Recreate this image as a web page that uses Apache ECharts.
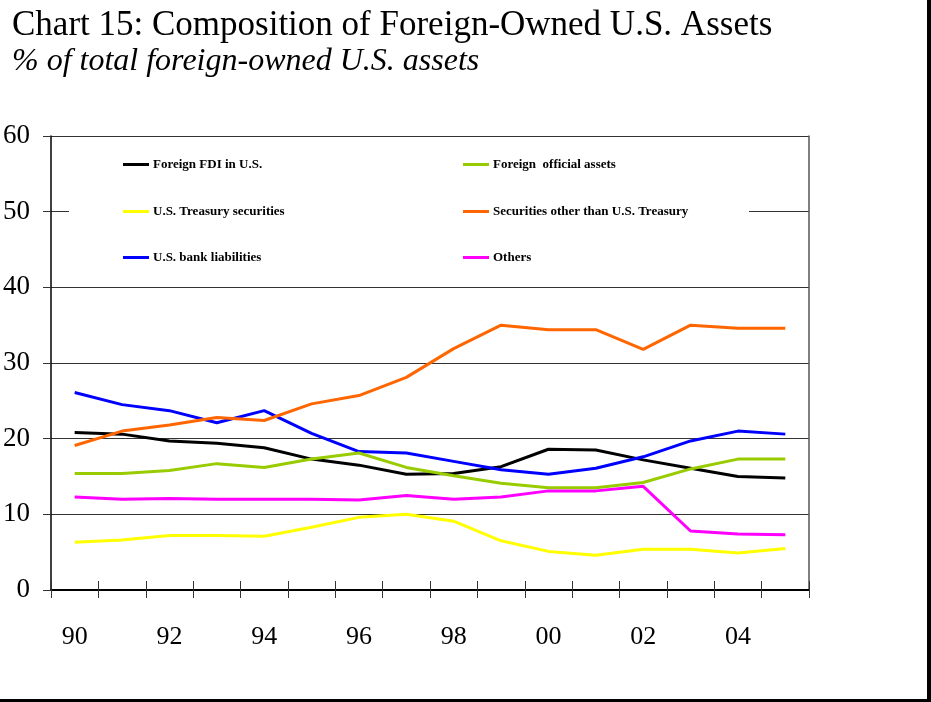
<!DOCTYPE html>
<html lang="en">
<head>
    <meta charset="UTF-8">
    <title>Chart 15</title>
    <script src="https://cdn.jsdelivr.net/npm/echarts@6/dist/echarts.min.js"></script>
    <style>
        html, body { margin: 0; padding: 0; background: #fff; }
        #main { width: 931px; height: 702px; }
    </style>
</head>
<body>
    <div id="main"></div>
    <script>
        // years 1990 - 2005
        var years = ['90', '91', '92', '93', '94', '95', '96', '97', '98', '99', '00', '01', '02', '03', '04', '05'];

        var fdi = [20.8, 20.6, 19.7, 19.4, 18.8, 17.3, 16.5, 15.3, 15.4, 16.3, 18.6, 18.5, 17.2, 16.1, 15.0, 14.8];
        var treasury = [6.3, 6.6, 7.2, 7.2, 7.1, 8.3, 9.6, 10.0, 9.1, 6.5, 5.1, 4.6, 5.4, 5.4, 4.9, 5.5];
        var bank = [26.1, 24.5, 23.7, 22.1, 23.7, 20.7, 18.3, 18.1, 17.0, 15.9, 15.3, 16.1, 17.6, 19.7, 21.0, 20.6];
        var official = [15.4, 15.4, 15.8, 16.7, 16.2, 17.3, 18.1, 16.2, 15.1, 14.1, 13.5, 13.5, 14.2, 16.0, 17.3, 17.3];
        var securities = [19.1, 21.0, 21.8, 22.8, 22.4, 24.6, 25.7, 28.1, 31.9, 35.0, 34.4, 34.4, 31.8, 35.0, 34.6, 34.6];
        var others = [12.3, 12.0, 12.1, 12.0, 12.0, 12.0, 11.9, 12.5, 12.0, 12.3, 13.1, 13.1, 13.7, 7.8, 7.4, 7.3];

        var yTicks = [0, 10, 20, 30, 40, 50, 60];

        var serif = '"Liberation Serif", "DejaVu Serif", serif';

        var myChart = echarts.init(document.getElementById('main'));

        function line(name, data, color) {
            return {
                name: name,
                type: 'line',
                data: data,
                symbol: 'none',
                xAxisIndex: 0,
                yAxisIndex: 0,
                lineStyle: { color: color, width: 3 },
                itemStyle: { color: color }
            };
        }

        // one legend per item so they sit in a 2 x 3 grid
        function leg(name, left, top) {
            return {
                data: [name],
                left: left,
                top: top,
                icon: 'rect',
                itemWidth: 26,
                itemHeight: 3,
                itemGap: 0,
                padding: 0,
                z: 6,
                textStyle: { fontFamily: serif, fontWeight: 'bold', fontSize: 13, color: '#000', padding: [0, 0, 0, -1] },
                selectedMode: false
            };
        }

        var option = {
            backgroundColor: '#fff',
            animation: false,
            title: [{
                text: 'Chart 15: Composition of Foreign-Owned U.S. Assets',
                left: 12,
                top: 8,
                padding: 0,
                textStyle: { fontFamily: serif, fontWeight: 'normal', fontSize: 35, color: '#000' }
            }, {
                text: '% of total foreign-owned U.S. assets',
                left: 12,
                top: 46,
                padding: 0,
                textStyle: { fontFamily: serif, fontWeight: 'normal', fontStyle: 'italic', fontSize: 32, color: '#000' }
            }],
            legend: [
                leg('Foreign FDI in U.S.', 123, 158),
                leg('U.S. Treasury securities', 123, 205),
                leg('U.S. bank liabilities', 123, 251),
                leg('Foreign  official assets', 463, 158),
                leg('Securities other than U.S. Treasury', 463, 205),
                leg('Others', 463, 251)
            ],
            grid: { left: 51, right: 122, top: 136, bottom: 112, containLabel: false },
            xAxis: [{
                type: 'category',
                data: years,
                boundaryGap: true,
                position: 'bottom',
                axisLine: { show: true, lineStyle: { color: '#000', width: 2 } },
                axisTick: { show: true, interval: 0, length: 8, lineStyle: { color: '#333', width: 1 } },
                axisLabel: { interval: 1, margin: 34, fontFamily: serif, fontSize: 26, color: '#000' },
                splitLine: { show: false }
            }, {
                type: 'category',
                data: years,
                boundaryGap: true,
                position: 'bottom',
                offset: 0,
                axisLine: { show: false },
                axisTick: { show: true, inside: true, interval: 0, length: 9, lineStyle: { color: '#333', width: 1 } },
                axisLabel: { show: false },
                splitLine: { show: false }
            }],
            yAxis: [{
                type: 'value',
                min: yTicks[0],
                max: yTicks[yTicks.length - 1],
                interval: 10,
                axisLine: { show: true, lineStyle: { color: '#000', width: 1.5 } },
                axisTick: { show: true, length: 8, lineStyle: { color: '#333' } },
                axisLabel: { margin: 21, fontFamily: serif, fontSize: 27, color: '#000' },
                splitLine: { show: true, lineStyle: { color: '#333', width: 1 } }
            }, {
                type: 'value',
                position: 'right',
                min: 0,
                max: 60,
                interval: 10,
                axisLine: { show: true, lineStyle: { color: '#555', width: 1.5 } },
                axisTick: { show: false },
                axisLabel: { show: false },
                splitLine: { show: false }
            }],
            graphic: [{
                type: 'rect',
                z: 5,
                shape: { x: 69, y: 142, width: 680, height: 138 },
                style: { fill: '#fff' }
            }, {
                type: 'rect',
                z: 5,
                shape: { x: 927, y: 0, width: 4, height: 702 },
                style: { fill: '#000' }
            }, {
                type: 'rect',
                z: 5,
                shape: { x: 0, y: 699, width: 931, height: 3 },
                style: { fill: '#000' }
            }],
            series: [
                line('Foreign FDI in U.S.', fdi, '#000000'),
                line('U.S. Treasury securities', treasury, '#ffff00'),
                line('U.S. bank liabilities', bank, '#0000ff'),
                line('Foreign  official assets', official, '#99cc00'),
                line('Securities other than U.S. Treasury', securities, '#ff6600'),
                line('Others', others, '#ff00ff')
            ]
        };

        myChart.setOption(option);
    </script>
</body>
</html>
